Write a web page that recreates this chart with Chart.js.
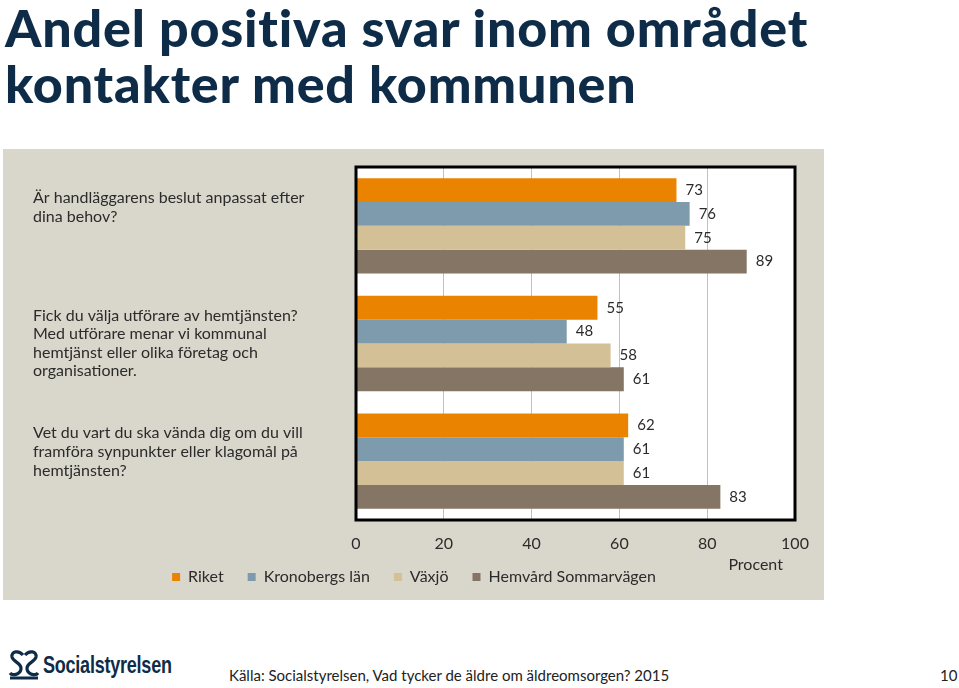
<!DOCTYPE html>
<html>
<head>
<meta charset="utf-8">
<script src="https://cdn.jsdelivr.net/npm/chart.js@4"></script>
<style>
  body { margin: 0; width: 959px; height: 688px; background: #fff; position: relative; overflow: hidden; font-family: Lato, sans-serif; }
  h1 { position: absolute; left: 5px; top: -1px; margin: 0; font-family: Lato, sans-serif; font-weight: 900; font-size: 52px; line-height: 56px; letter-spacing: 0.8px; color: #0e2c47; white-space: nowrap; }
  #panel { position: absolute; left: 3px; top: 149px; width: 821px; height: 451px; background: #d9d7cc; }
  #logo { position: absolute; left: 8px; top: 648px; height: 34px; display: flex; align-items: center; }
  #logo span { display: inline-block; font-family: "Liberation Sans", sans-serif; font-weight: bold; font-size: 24px; color: #0e2c47; letter-spacing: -0.3px; margin-left: 3px; transform: scaleX(0.75); transform-origin: left center; }
  #source { position: absolute; left: 229px; top: 666px; font-size: 15px; color: #222; }
  #page { position: absolute; left: 940px; top: 666px; font-size: 15px; color: #222; }
</style>
</head>
<body>
<h1>Andel positiva svar inom området<br>kontakter med kommunen</h1>
<div id="panel"><canvas id="myChart" width="821" height="451"></canvas></div>
<div id="logo">
  <svg width="32" height="32" viewBox="0 0 32 32">
    <path d="M15 6 C11 1 3 2 4 8 C5 13 14 14 13 20 C12 26 4 27 2 24" fill="none" stroke="#0e2c47" stroke-width="3.2"/>
    <path d="M17 6 C21 1 29 2 28 8 C27 13 18 14 19 20 C20 26 28 27 30 24" fill="none" stroke="#0e2c47" stroke-width="3.2"/>
    <path d="M2 29 L30 29" stroke="#0e2c47" stroke-width="3"/>
  </svg>
  <span>Socialstyrelsen</span>
</div>
<div id="source">Källa: Socialstyrelsen, Vad tycker de äldre om äldreomsorgen? 2015</div>
<div id="page">10</div>
<script>
const questions = [
  ['Är handläggarens beslut anpassat efter', 'dina behov?', '', ''],
  ['Fick du välja utförare av hemtjänsten?', 'Med utförare menar vi kommunal', 'hemtjänst eller olika företag och', 'organisationer.'],
  ['Vet du vart du ska vända dig om du vill', 'framföra synpunkter eller klagomål på', 'hemtjänsten?', '']
];
const seriesNames = ['Riket', 'Kronobergs län', 'Växjö', 'Hemvård Sommarvägen'];
const riket = [73, 55, 62];
const kronoberg = [76, 48, 61];
const vaxjo = [75, 58, 61];
const hemvard = [89, 61, 83];
const colors = ['#ea8400', '#7d9bad', '#d4c096', '#857565'];
const xTicks = [0, 20, 40, 60, 80, 100];

const textColor = '#2b2b2b';
const font = { family: 'Lato, sans-serif', size: 16 };

const plotBg = {
  id: 'plotBg',
  beforeDraw(chart) {
    const { ctx, chartArea: a } = chart;
    ctx.save();
    ctx.fillStyle = '#fff';
    ctx.fillRect(a.left, a.top, a.right - a.left, a.bottom - a.top);
    ctx.restore();
  },
  afterDatasetsDraw(chart) {
    const { ctx, chartArea: a } = chart;
    ctx.save();
    // value labels
    ctx.font = '15px Lato, sans-serif';
    ctx.fillStyle = textColor;
    ctx.textAlign = 'left';
    ctx.textBaseline = 'middle';
    chart.data.datasets.forEach((ds, i) => {
      chart.getDatasetMeta(i).data.forEach((bar, j) => {
        ctx.fillText(ds.data[j], bar.x + 9, bar.y);
      });
    });
    // frame
    ctx.strokeStyle = '#000';
    ctx.lineWidth = 3;
    ctx.strokeRect(a.left, a.top, a.right - a.left, a.bottom - a.top);
    ctx.restore();
  }
};

const data = {
  labels: questions,
  datasets: [riket, kronoberg, vaxjo, hemvard].map((d, i) => ({
    label: seriesNames[i],
    data: d,
    backgroundColor: colors[i],
    borderWidth: 0,
    categoryPercentage: 0.81,
    barPercentage: 1
  }))
};

const config = {
  type: 'bar',
  data: data,
  options: {
    indexAxis: 'y',
    responsive: false,
    animation: false,
    layout: {
      padding: { left: 30, right: 29, top: 18, bottom: 5 }
    },
    plugins: {
      legend: {
        position: 'bottom',
        labels: {
          boxWidth: 8,
          boxHeight: 8,
          padding: 8,
          color: textColor,
          font: font,
          generateLabels: chart => {
            const items = Chart.defaults.plugins.legend.labels.generateLabels(chart);
            items.forEach((it, i) => { if (i < items.length - 1) it.text += '\u2002\u2002'; });
            return items;
          }
        }
      },
      tooltip: { enabled: false }
    },
    scales: {
      x: {
        min: 0,
        max: 100,
        afterBuildTicks: s => { s.ticks = xTicks.map(v => ({ value: v })); },
        grid: { color: '#c0c0c0', drawTicks: false },
        border: { display: false },
        ticks: { padding: 14, color: textColor, font: font },
        title: { display: true, text: 'Procent\u2002 ', align: 'end', color: textColor, font: font, padding: { top: 0, bottom: -13 } },
        afterFit: s => { s.height = 41; }
      },
      y: {
        grid: { display: false },
        border: { display: false },
        ticks: { crossAlign: 'far', autoSkip: false, color: textColor, font: { family: 'Lato, sans-serif', size: 16, lineHeight: 1.16 } },
        afterFit: s => { s.width = 323; s.paddingTop = 0; s.paddingBottom = 0; }
      }
    }
  },
  plugins: [plotBg]
};

const myChart = new Chart(document.getElementById('myChart'), config);
</script>
</body>
</html>
